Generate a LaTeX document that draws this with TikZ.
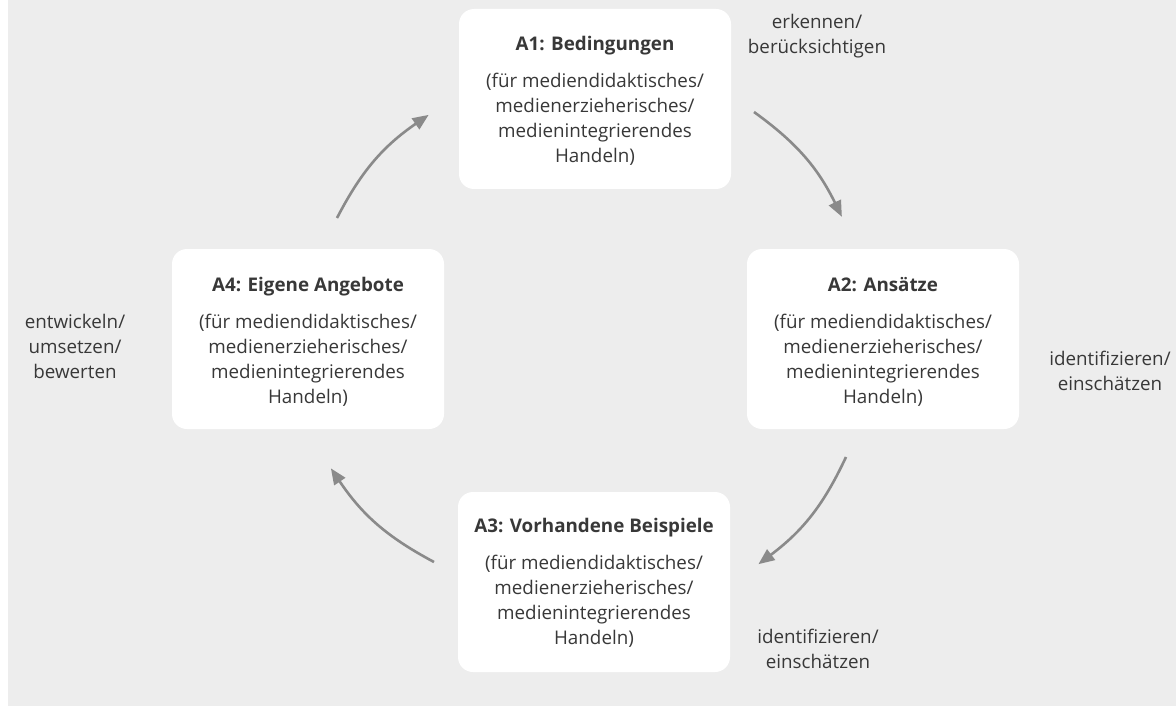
\documentclass[tikz,border=0pt]{standalone}
\usepackage{fontspec}
\setmainfont{Open Sans}
\usetikzlibrary{arrows.meta}
\definecolor{bg}{HTML}{EDEDED}
\definecolor{txt}{HTML}{383838}
\definecolor{arr}{HTML}{8A8A8A}
\tikzset{
  box/.style={fill=white, draw=none, rounded corners=15pt, minimum width=272pt, minimum height=180pt, inner sep=0pt},
  ttl/.style={text=txt, font=\fontsize{18.8}{25}\selectfont\bfseries, inner sep=0pt, anchor=base},
  body/.style={text=txt, font=\fontsize{18.8}{25}\selectfont, align=center, inner sep=0pt, anchor=base},
  lbl/.style={text=txt, font=\fontsize{18.8}{25}\selectfont, align=center, inner sep=0pt, anchor=base},
  conn/.style={draw=arr, line width=2.6pt, -{Triangle[length=16pt,width=13pt]}, shorten >=-2pt},
}
\begin{document}
\begin{tikzpicture}[x=1pt,y=-1pt]
\useasboundingbox (0,0) rectangle (1176,706);
\fill[bg] (8,0) rectangle (1176,706);

\node[box] (a1) at (595,99) {};
\node[box] (a2) at (883,339) {};
\node[box] (a3) at (594,582) {};
\node[box] (a4) at (308,339) {};

% base anchor = baseline of the last line
\node[ttl] (t1) at (595,51) {A1: Bedingungen};
\node[body] (b1) at (595,163) {(für mediendidaktisches/\\medienerzieherisches/\\medienintegrierendes\\Handeln)};
\node[ttl] (t2) at (883,291) {A2: Ansätze};
\node[body] (b2) at (883,403) {(für mediendidaktisches/\\medienerzieherisches/\\medienintegrierendes\\Handeln)};
\node[ttl] (t3) at (594,532) {A3: Vorhandene Beispiele};
\node[body] (b3) at (594,644) {(für mediendidaktisches/\\medienerzieherisches/\\medienintegrierendes\\Handeln)};
\node[ttl] (t4) at (308,291) {A4: Eigene Angebote};
\node[body] (b4) at (308,403) {(für mediendidaktisches/\\medienerzieherisches/\\medienintegrierendes\\Handeln)};

\node[lbl] (l1) at (817,54) {erkennen/\\berücksichtigen};
\node[lbl] (l2) at (1110,390) {identifizieren/\\einschätzen};
\node[lbl] (l3) at (818,668) {identifizieren/\\einschätzen};
\node[lbl] (l4) at (75,378) {entwickeln/\\umsetzen/\\bewerten};

\coordinate (s1) at (754,112);
\coordinate (e1) at (841,215);
\coordinate (s2) at (846,457);
\coordinate (e2) at (760,563);
\coordinate (s3) at (434,562);
\coordinate (e3) at (332,470);
\coordinate (s4) at (337,218);
\coordinate (e4) at (427,116);

\draw[conn] (s1) to[bend left=14] (e1);
\draw[conn] (s2) to[bend left=14] (e2);
\draw[conn] (s3) to[bend left=14] (e3);
\draw[conn] (s4) to[bend left=14] (e4);
\end{tikzpicture}
\end{document}
